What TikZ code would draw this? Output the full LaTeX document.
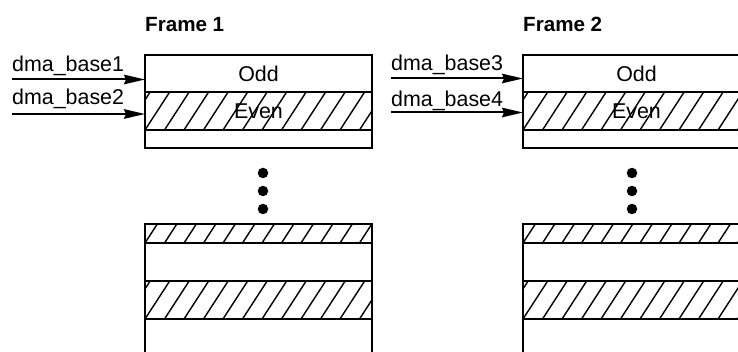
\documentclass[tikz,border=0pt]{standalone}
\usepackage{fontspec}
\setmainfont{Liberation Sans}
\usetikzlibrary{arrows.meta}
\begin{document}
\begin{tikzpicture}[x=1pt,y=-1pt,
  every node/.style={font=\fontsize{21.4}{25}\selectfont},
  title/.style={font=\fontsize{20.6}{24}\selectfont\bfseries, anchor=base west, inner sep=0pt},
  lbl/.style={anchor=base west, inner sep=0pt},
  rowbox/.style={draw, line width=1.5pt, minimum width=227pt, inner sep=0pt, outer sep=0pt, anchor=north west},
  hatched/.style={path picture={\foreach \i in {-3,...,13}{\draw[line width=1.4pt] ([xshift=\i*19.5pt]path picture bounding box.south west) -- ++(57:60pt);}}},
  feed/.style={line width=2pt, -{Stealth[length=21pt,width=9.5pt,inset=2pt]}},
  dot/.style={circle, fill, inner sep=0pt, minimum size=10.5pt}]
\useasboundingbox (0,0) rectangle (738,352);
\clip (0,0) rectangle (738,352);
\fill[white] (0,0) rectangle (738,352);

% ---------- Frame 1 ----------
\node[title] (f1) at (145,32) {Frame 1};
\node[rowbox, minimum height=37pt] (odd1) at (145,55) {Odd};
\node[rowbox, hatched, minimum height=38pt] (even1) at (145,92) {Even};
\node[rowbox, minimum height=18pt] (blank1) at (145,130) {};
\node[dot] (d1a) at (263,173) {};
\node[dot] (d1b) at (263,191) {};
\node[dot] (d1c) at (263,209) {};
\node[rowbox, hatched, minimum height=19pt] (h1a) at (145,224) {};
\node[rowbox, minimum height=38pt] (w1a) at (145,243) {};
\node[rowbox, hatched, minimum height=38pt] (h1b) at (145,281) {};
\node[rowbox, minimum height=50pt] (w1b) at (145,319) {};

\node[lbl] (l1) at (12,72) {dma\_base1};
\node[lbl] (l2) at (12,105) {dma\_base2};
\coordinate (s1) at (12,79.5);
\coordinate (s2) at (12,114);
\draw[feed] (s1) -- (odd1.west |- s1);
\draw[feed] (s2) -- (even1.west |- s2);

% ---------- Frame 2 ----------
\node[title] (f2) at (523,32) {Frame 2};
\node[rowbox, minimum height=37pt] (odd2) at (523,55) {Odd};
\node[rowbox, hatched, minimum height=38pt] (even2) at (523,92) {Even};
\node[rowbox, minimum height=18pt] (blank2) at (523,130) {};
\node[dot] (d2a) at (632,173) {};
\node[dot] (d2b) at (632,191) {};
\node[dot] (d2c) at (632,209) {};
\node[rowbox, hatched, minimum height=19pt] (h2a) at (523,224) {};
\node[rowbox, minimum height=38pt] (w2a) at (523,243) {};
\node[rowbox, hatched, minimum height=38pt] (h2b) at (523,281) {};
\node[rowbox, minimum height=50pt] (w2b) at (523,319) {};

\node[lbl] (l3) at (391,71) {dma\_base3};
\node[lbl] (l4) at (391,107) {dma\_base4};
\coordinate (s3) at (391,78.5);
\coordinate (s4) at (391,112.5);
\draw[feed] (s3) -- (odd2.west |- s3);
\draw[feed] (s4) -- (even2.west |- s4);
\end{tikzpicture}
\end{document}
